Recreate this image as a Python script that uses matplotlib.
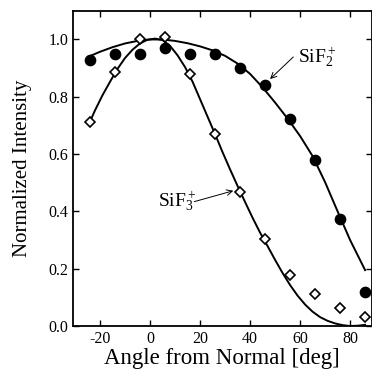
import matplotlib
matplotlib.use("Agg")
import matplotlib.pyplot as plt

plt.rcParams['font.family'] = ['Liberation Serif', 'DejaVu Serif']
plt.rcParams['mathtext.fontset'] = 'custom'
plt.rcParams['mathtext.rm'] = 'Liberation Serif'
plt.rcParams['mathtext.it'] = 'Liberation Serif:italic'

# measured data
angles = [-24, -14, -4, 6, 16, 26, 36, 46, 56, 66, 76, 86]
sif2 = [0.93, 0.951, 0.950, 0.970, 0.950, 0.951, 0.900, 0.840, 0.721, 0.579, 0.375, 0.119]
sif3 = [0.711, 0.888, 1.002, 1.010, 0.880, 0.670, 0.469, 0.302, 0.179, 0.111, 0.063, 0.033]

# fitted curves
fit2_x = [-24, -20, -15, -10, -5, 0, 5, 10, 15, 20, 25, 30, 35, 40, 45, 50, 55, 60, 65, 70, 75, 80, 86]
fit2_y = [0.942, 0.957, 0.973, 0.986, 0.995, 1.0, 1.0, 0.995, 0.987, 0.976, 0.962, 0.943, 0.916,
          0.880, 0.833, 0.780, 0.724, 0.663, 0.593, 0.502, 0.400, 0.300, 0.195]
fit3_x = [-24, -22, -19, -16, -13, -10, -7, -4, -1, 2, 5, 8, 11, 14, 17, 20, 23, 26, 29, 32, 35,
          38, 41, 44, 47, 50, 53, 56, 59, 62, 65, 68, 71, 74, 77, 80, 83, 86]
fit3_y = [0.713, 0.752, 0.805, 0.852, 0.897, 0.935, 0.964, 0.986, 0.999, 1.003, 0.998, 0.978, 0.945,
          0.904, 0.853, 0.792, 0.731, 0.670, 0.607, 0.547, 0.489, 0.433, 0.378, 0.326, 0.279,
          0.231, 0.185, 0.143, 0.106, 0.075, 0.050, 0.031, 0.018, 0.009, 0.003, 0.000, 0.001, 0.004]

xticks = [-20, 0, 20, 40, 60, 80]
yticks = [0.0, 0.2, 0.4, 0.6, 0.8, 1.0]

fig = plt.figure(figsize=(3.72, 3.73), dpi=100)
ax = fig.add_axes([0.196, 0.126, 0.803, 0.845])

ax.plot(fit2_x, fit2_y, color='black', lw=1.4, zorder=2)
ax.plot(fit3_x, fit3_y, color='black', lw=1.4, zorder=2)
ax.plot(angles, sif2, 'o', color='black', markersize=7.4, zorder=3)
ax.plot(angles, sif3, 'D', markerfacecolor='white', markeredgecolor='black',
        markersize=5.2, markeredgewidth=1.2, zorder=3)

ax.set_xlim(-30.8, 88.6)
ax.set_ylim(0, 1.1)
ax.set_xticks(xticks)
ax.set_xticklabels([str(t) for t in xticks])
ax.set_yticks(yticks)
ax.set_yticklabels([f"{t:.1f}" for t in yticks])
ax.tick_params(direction='in', top=True, right=True, length=4, width=1.0, labelsize=11.5)
for s in ax.spines.values():
    s.set_linewidth(1.3)

ax.set_xlabel('Angle from Normal [deg]', fontsize=16.5, labelpad=1)
ax.set_ylabel('Normalized Intensity', fontsize=15, labelpad=12)

ax.text(59.1, 0.918, r'SiF$_2^+$', fontsize=14, ha='left', va='baseline')
ax.annotate('', xy=(48.0, 0.862), xytext=(57.3, 0.939),
            arrowprops=dict(arrowstyle='->', lw=0.7, color='black', shrinkA=0, shrinkB=0))
ax.text(3.3, 0.416, r'SiF$_3^+$', fontsize=14, ha='left', va='baseline')
ax.annotate('', xy=(33.3, 0.472), xytext=(17.7, 0.434),
            arrowprops=dict(arrowstyle='->', lw=0.7, color='black', shrinkA=0, shrinkB=0))

fig.savefig('out.png', dpi=100)
